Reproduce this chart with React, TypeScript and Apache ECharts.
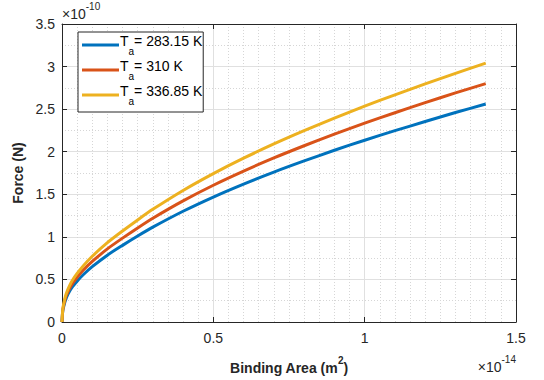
import React, { useEffect, useRef } from 'react';
import * as echarts from 'echarts';

const areaX = [0, 0.002, 0.004, 0.01, 0.015, 0.025, 0.035, 0.05, 0.07, 0.1, 0.15, 0.2, 0.25, 0.3, 0.4, 0.5, 0.6, 0.7, 0.8, 0.9, 1.0, 1.1, 1.2, 1.3, 1.4];
const force283 = [0, 0.11, 0.155, 0.24, 0.29, 0.36, 0.415, 0.48, 0.555, 0.65, 0.785, 0.9, 1.01, 1.114, 1.301, 1.468, 1.62, 1.761, 1.892, 2.017, 2.135, 2.247, 2.355, 2.46, 2.56];
const force310 = [0, 0.12, 0.17, 0.263, 0.317, 0.394, 0.454, 0.525, 0.607, 0.711, 0.859, 0.985, 1.105, 1.219, 1.423, 1.606, 1.772, 1.927, 2.07, 2.207, 2.336, 2.458, 2.576, 2.691, 2.8];
const force337 = [0, 0.131, 0.184, 0.285, 0.344, 0.428, 0.493, 0.57, 0.659, 0.772, 0.932, 1.069, 1.199, 1.323, 1.545, 1.743, 1.924, 2.091, 2.247, 2.395, 2.535, 2.668, 2.797, 2.921, 3.04];
const seriesNames = ['T_a= 283.15 K', 'T_a= 310 K', 'T_a= 336.85 K'];
const colors = ['#0072BD', '#D95319', '#EDB120'];

const FONT = 'Liberation Sans, Arial, sans-serif';
const INK = '#262626';

export default function App() {
  const ref = useRef<HTMLDivElement>(null);
  useEffect(() => {
    if (!ref.current) return;
    const chart = echarts.init(ref.current, undefined, { renderer: 'svg' });
    const allData = [force283, force310, force337];
    const legendLabel = (name: string) => {
      const parts = name.split('_a');
      return '{t|' + parts[0] + '}{s|a}{t|' + parts[1] + '}';
    };
    const axisCommon = {
      type: 'value' as const,
      axisLine: { show: true, onZero: false, lineStyle: { color: INK, width: 1 } },
      axisTick: { show: true, inside: true, length: 5, lineStyle: { color: INK } },
    };
    const supRich = {
      a: { fontFamily: FONT, fontSize: 14, fill: INK, verticalAlign: 'bottom', lineHeight: 20 },
      b: { fontFamily: FONT, fontSize: 10, fill: INK, verticalAlign: 'top', lineHeight: 20 },
    };
    chart.setOption({
      animation: false,
      backgroundColor: '#ffffff',
      color: colors,
      grid: { left: 62, right: 28, top: 24, bottom: 51, containLabel: false },
      legend: {
        orient: 'vertical',
        left: 78,
        top: 32,
        backgroundColor: '#ffffff',
        borderColor: INK,
        borderWidth: 1,
        borderRadius: 0,
        padding: [2, 1, 6, 4],
        itemGap: 3,
        itemWidth: 37,
        itemHeight: 3,
        icon: 'rect',
        data: seriesNames,
        formatter: legendLabel,
        textStyle: {
          padding: [0, 0, 0, -4],
          rich: {
            t: { fontFamily: FONT, fontSize: 14, color: '#000', verticalAlign: 'top', lineHeight: 22 },
            s: { fontFamily: FONT, fontSize: 10, color: '#000', verticalAlign: 'bottom', lineHeight: 22 },
          },
        },
      },
      xAxis: [
        {
          ...axisCommon,
          position: 'bottom',
          min: 0,
          max: 1.5,
          interval: 0.5,
          name: '{t|Binding Area (m}{s|2}{t|)}',
          nameLocation: 'middle',
          nameGap: 33,
          nameTextStyle: {
            rich: {
              t: { fontFamily: FONT, fontSize: 14, fontWeight: 'bold', color: INK, verticalAlign: 'bottom', lineHeight: 20 },
              s: { fontFamily: FONT, fontSize: 10, fontWeight: 'bold', color: INK, verticalAlign: 'top', lineHeight: 20 },
            },
          },
          axisLabel: { show: true, color: INK, fontFamily: FONT, fontSize: 14, margin: 9, formatter: (v: number) => String(v) },
          splitLine: { show: true, lineStyle: { color: '#e0e0e0', width: 1 } },
          minorTick: { show: false, splitNumber: 10 },
          minorSplitLine: { show: true, lineStyle: { color: '#d6d6d6', width: 1, type: [1, 2] } },
        },
        {
          ...axisCommon,
          position: 'top',
          min: 0,
          max: 1.5,
          interval: 0.5,
          axisLabel: { show: false },
          splitLine: { show: false },
        },
      ],
      yAxis: [
        {
          ...axisCommon,
          position: 'left',
          min: 0,
          max: 3.5,
          interval: 0.5,
          name: 'Force (N)',
          nameLocation: 'middle',
          nameGap: 32,
          nameTextStyle: { fontFamily: FONT, fontSize: 14, fontWeight: 'bold', color: INK },
          axisLabel: { show: true, color: INK, fontFamily: FONT, fontSize: 14, margin: 7, formatter: (v: number) => String(v) },
          splitLine: { show: true, lineStyle: { color: '#e0e0e0', width: 1 } },
          minorTick: { show: false, splitNumber: 2 },
          minorSplitLine: { show: true, lineStyle: { color: '#d6d6d6', width: 1, type: [1, 2] } },
        },
        {
          ...axisCommon,
          position: 'right',
          min: 0,
          max: 3.5,
          interval: 0.5,
          axisLabel: { show: false },
          splitLine: { show: false },
        },
      ],
      graphic: [
        {
          type: 'text',
          left: 62,
          top: 1,
          style: { text: '{a|×10}{b|-10}', rich: supRich },
        },
        {
          type: 'text',
          right: 28,
          top: 354,
          style: { text: '{a|×10}{b|-14}', rich: supRich },
        },
      ],
      series: allData.map((vals, k) => ({
        name: seriesNames[k],
        type: 'line',
        xAxisIndex: 0,
        yAxisIndex: 0,
        data: areaX.map((x, i) => [x, vals[i]]),
        showSymbol: false,
        symbol: 'none',
        smooth: 0.25,
        lineStyle: { width: 3, color: colors[k], join: 'round', cap: 'butt' },
        itemStyle: { color: colors[k] },
        z: 3 + k,
      })),
    });
    return () => chart.dispose();
  }, []);
  return (
    <div
      ref={ref}
      style={{ position: 'fixed', left: 0, top: 0, width: 544, height: 380, background: '#fff' }}
    />
  );
}
